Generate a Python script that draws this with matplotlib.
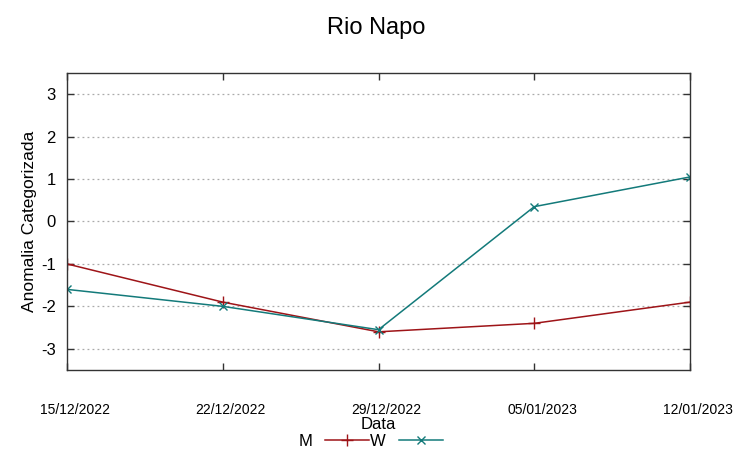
import matplotlib
matplotlib.use("Agg")
import matplotlib.pyplot as plt
import matplotlib.transforms as mtransforms
from matplotlib.lines import Line2D
import pandas as pd

plt.rcParams["font.family"] = ["Liberation Sans", "DejaVu Sans"]

RED  = "#9e1418"
TEAL = "#137a7a"

dates    = ["15/12/2022", "22/12/2022", "29/12/2022", "05/01/2023", "12/01/2023"]
m_values = [-1.0, -1.9, -2.6, -2.4, -1.9]
w_values = [-1.6, -2.0, -2.55, 0.35, 1.05]
y_ticks  = [-3, -2, -1, 0, 1, 2, 3]

x = pd.to_datetime(dates, format="%d/%m/%Y")

fig = plt.figure(figsize=(7.53, 4.59), dpi=100)
ax = fig.add_axes([67 / 753, 1 - 370 / 459, (690 - 67) / 753, (370 - 73) / 459])

ax.plot(x, m_values, color=RED, linewidth=1.1, marker="+", markersize=8,
        markeredgewidth=1.0, label="M")
ax.plot(x, w_values, color=TEAL, linewidth=1.1, marker="x", markersize=6,
        markeredgewidth=1.0, label="W")

ax.set_xlim(x[0], x[-1])
ax.set_ylim(-3.5, 3.5)
ax.set_xticks(x)
ax.set_xticklabels(dates, fontsize=10)
ax.set_yticks(y_ticks)
ax.set_yticklabels([str(v) for v in y_ticks], fontsize=12)

ax.tick_params(axis="both", direction="in", top=True, right=True,
               length=5, width=1, color="#333333")
ax.tick_params(axis="x", pad=24)
ax.tick_params(axis="y", pad=8)

# gnuplot puts the date labels a little to the right of the tick
offset = mtransforms.ScaledTranslation(8 / 100, 0, fig.dpi_scale_trans)
for tick in ax.xaxis.get_major_ticks():
    tick.label1.set_transform(tick.label1.get_transform() + offset)

ax.grid(axis="y", linestyle=(0, (1.5, 2.5)), color="#aaaaaa", linewidth=0.9)
for s in ax.spines.values():
    s.set_color("#333333")
    s.set_linewidth(1.0)

ax.set_ylabel("Anomalia Categorizada", fontsize=12.5, labelpad=3)
ax.set_xlabel("Data", fontsize=12, labelpad=0)
fig.suptitle("Rio Napo", fontsize=17, y=0.962, va="top")

handles = [Line2D([], [], color=RED, marker="+", markersize=8, linewidth=1.1),
           Line2D([], [], color=TEAL, marker="x", markersize=6, linewidth=1.1)]
fig.legend(handles, ["M", "W"], loc="lower center", bbox_to_anchor=(0.492, -0.01),
           ncol=2, frameon=False, fontsize=12, markerfirst=False,
           handlelength=2.6, columnspacing=0.1, handletextpad=0.8)

fig.savefig("out.png", dpi=100, facecolor="white")
